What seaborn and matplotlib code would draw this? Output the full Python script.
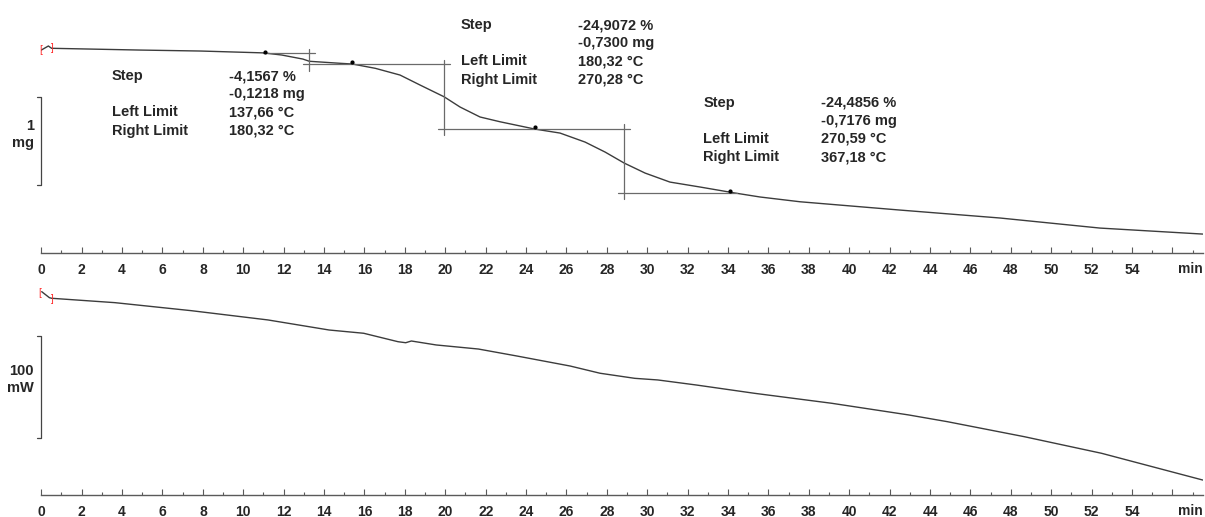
import numpy as np
import pandas as pd
import seaborn as sns
import matplotlib.pyplot as plt
from matplotlib.ticker import MultipleLocator

# TGA curve: time (min) vs sample mass (mg)
tga_time = [0.0, 0.35, 0.51, 4.9, 7.9, 11.0, 11.9, 12.95, 13.27, 14.8, 15.4, 16.54, 17.76,
            18.75, 19.94, 20.73, 21.72, 22.71, 24.44, 25.68, 26.92, 27.91, 28.85, 29.89,
            31.12, 32.61, 34.34, 35.58, 37.56, 42.51, 47.46, 52.41, 57.5]
tga_mass = [2.907, 2.953, 2.927, 2.907, 2.896, 2.875, 2.851, 2.805, 2.780, 2.757, 2.749,
            2.700, 2.624, 2.511, 2.378, 2.262, 2.149, 2.095, 2.012, 1.967, 1.865, 1.752,
            1.628, 1.514, 1.412, 1.356, 1.288, 1.243, 1.189, 1.095, 1.005, 0.891, 0.823]

# DSC curve: time (min) vs heat flow (mW)
dsc_time = [0.02, 0.4, 0.51, 3.64, 7.43, 11.22, 14.25, 15.96, 17.66, 18.04, 18.32, 19.55,
            21.64, 23.53, 26.18, 27.66, 29.38, 30.52, 32.44, 35.30, 39.12, 42.94, 44.85,
            48.67, 52.49, 57.5]
dsc_heat = [26.5, 20.6, 20.0, 15.7, 7.8, -1.3, -11.2, -14.4, -22.7, -23.7, -22.0, -25.9,
            -29.9, -36.7, -46.6, -53.7, -58.7, -60.3, -65.3, -73.4, -83.2, -94.7, -101.3,
            -116.1, -132.4, -158.7]

# step evaluation: vertical limit lines (time, mass from, mass to)
step_vert_t = [13.27, 19.95, 28.86]
step_vert_hi = [2.919, 2.794, 2.069]
step_vert_lo = [2.670, 1.945, 1.220]
# tangent baselines (mass, time from, time to)
base_mass = [2.870, 2.745, 2.009, 1.291]
base_t0 = [10.98, 12.95, 19.64, 28.55]
base_t1 = [13.55, 20.23, 29.15, 34.43]
# evaluation points on the curve
pick_t = [11.07, 15.37, 24.44, 34.09]
pick_mass = [2.888, 2.775, 2.039, 1.314]

row_labels = ["Step", "", "Left Limit", "Right Limit"]
step_results = [
    ["-4,1567 %", "-0,1218 mg", "137,66 °C", "180,32 °C"],
    ["-24,9072 %", "-0,7300 mg", "180,32 °C", "270,28 °C"],
    ["-24,4856 %", "-0,7176 mg", "270,59 °C", "367,18 °C"],
]
block_label_t = [3.50, 20.76, 32.77]
block_value_t = [9.29, 26.55, 38.58]
block_top_mass = [2.613, 3.190, 2.313]
row_gap = 0.206

x_ticks = list(range(0, 57, 2))
x_ticklabels = [str(v) for v in x_ticks[:-1]] + [""]

sns.set_theme(style="white")
plt.rcParams["font.family"] = ["Liberation Sans", "DejaVu Sans"]
plt.rcParams["font.weight"] = "bold"

line_col = "#3c3c3c"
aux_col = "#6a6a6a"
red = "#ff2a2a"

fig = plt.figure(figsize=(12.05, 5.17), dpi=100)
ax1 = fig.add_axes([0.03427, 0.5112, 0.9639, 0.4888])
ax2 = fig.add_axes([0.03427, 0.04255, 0.9639, 0.412])

for ax in (ax1, ax2):
    ax.set_facecolor("white")
    for side in ("top", "left", "right"):
        ax.spines[side].set_visible(False)
    ax.spines["bottom"].set_color("#5a5a5a")
    ax.spines["bottom"].set_linewidth(1.0)
    ax.set_xlim(0, 57.5)
    ax.xaxis.set_major_locator(MultipleLocator(2))
    ax.xaxis.set_minor_locator(MultipleLocator(1))
    ax.set_xticks(x_ticks)
    ax.set_xticklabels(x_ticklabels)
    ax.tick_params(axis="x", which="major", direction="in", length=4, width=0.8,
                   color="#5a5a5a", pad=7.5, labelsize=10, bottom=True)
    ax.tick_params(axis="x", which="minor", direction="in", length=2.5, width=0.8,
                   color="#5a5a5a", bottom=True)
    for lab in ax.get_xticklabels():
        lab.set_fontweight("bold")
    ax.set_yticks([])
    ax.set_xlabel("")
    ax.set_ylabel("")
    ax.annotate("min", xy=(57.5, 0), xycoords=("data", "axes fraction"),
                xytext=(0, -11.8), textcoords="offset points", ha="right", va="center",
                fontsize=10, fontweight="bold")

# top: TGA
sns.lineplot(x=tga_time, y=tga_mass, ax=ax1, color=line_col, linewidth=1.0,
             estimator=None, sort=False)
ax1.set_ylim(0.612, 3.474)

for t, lo, hi in zip(step_vert_t, step_vert_lo, step_vert_hi):
    ax1.plot([t, t], [lo, hi], color=aux_col, linewidth=0.9)
for m, t0, t1 in zip(base_mass, base_t0, base_t1):
    ax1.plot([t0, t1], [m, m], color=aux_col, linewidth=0.9)
ax1.plot(pick_t, pick_mass, linestyle="none", marker=".", markersize=4, color="black")

for k in range(3):
    for r in range(4):
        y = block_top_mass[k] - r * row_gap
        ax1.text(block_label_t[k], y, row_labels[r], ha="left", va="center",
                 fontsize=10.5, fontweight="bold")
        ax1.text(block_value_t[k], y, step_results[k][r], ha="left", va="center",
                 fontsize=10.5, fontweight="bold")

# scale bar 1 mg
ax1.plot([-0.2, 0, 0, -0.2], [2.378, 2.378, 1.378, 1.378], color="#444444",
         linewidth=0.9, clip_on=False)
ax1.text(-0.36, 1.95, "1\nmg", ha="right", va="center", multialignment="right",
         fontsize=10.5, fontweight="bold", linespacing=1.25)

# start markers
ax1.text(-0.05, 2.905, "[", color=red, fontsize=7, fontweight="normal",
         ha="center", va="center")
ax1.text(0.55, 2.925, "]", color=red, fontsize=7, fontweight="normal",
         ha="center", va="center")

# bottom: DSC
sns.lineplot(x=dsc_time, y=dsc_heat, ax=ax2, color=line_col, linewidth=1.0,
             estimator=None, sort=False)
ax2.set_ylim(-173.4, 36.0)
ax2.set_xlabel("")

ax2.plot([-0.2, 0, 0, -0.2], [-17.1, -17.1, -117.1, -117.1], color="#444444",
         linewidth=0.9, clip_on=False)
ax2.text(-0.36, -60.0, "100\nmW", ha="right", va="center", multialignment="right",
         fontsize=10.5, fontweight="bold", linespacing=1.25)

ax2.text(-0.1, 25.5, "[", color=red, fontsize=7, fontweight="normal",
         ha="center", va="center")
ax2.text(0.55, 19.5, "]", color=red, fontsize=7, fontweight="normal",
         ha="center", va="center")

fig.savefig("out.png", dpi=100, facecolor="white")
